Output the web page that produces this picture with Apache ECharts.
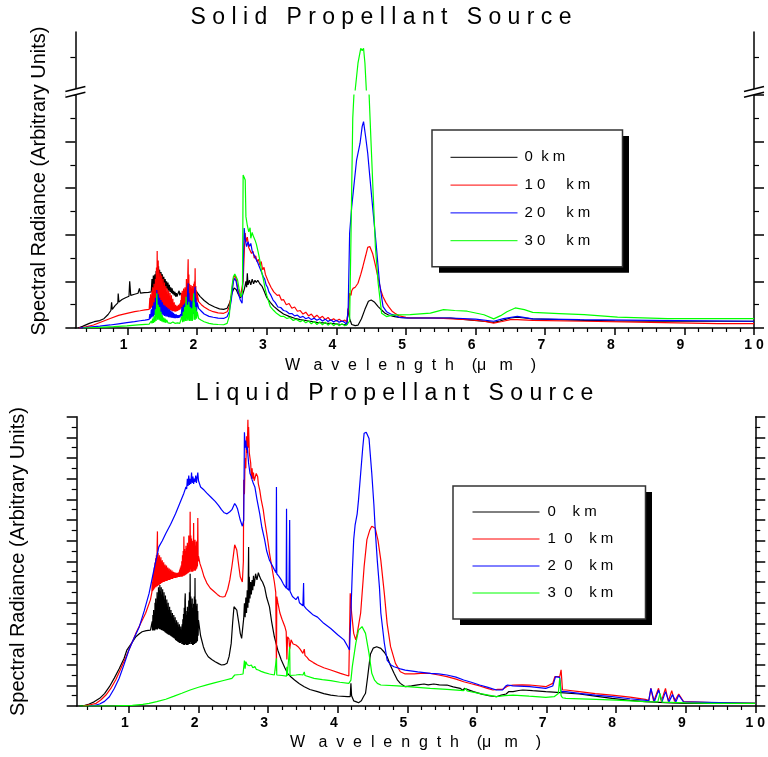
<!DOCTYPE html>
<html>
<head>
<meta charset="utf-8">
<script src="https://cdn.jsdelivr.net/npm/echarts@6/dist/echarts.min.js"></script>
<style>html,body{margin:0;padding:0;background:#fff}#c{width:768px;height:757px}</style>
</head>
<body>
<div id="c"></div>
<script>
// ---------- names / labels ----------
const seriesNames = ['0 km', '10 km', '20 km', '30 km'];
const seriesColors = ['#000000', '#ff0000', '#0000ff', '#00ff00'];
const legendTextTop = ['0  k m', '1 0     k m', '2 0     k m', '3 0     k m'];
const legendTextBottom = ['0    k m', '1  0    k m', '2  0    k m', '3  0    k m'];
const xTickValues = [1, 2, 3, 4, 5, 6, 7, 8, 9, 10];
const xTickLabels = ['1  ', '2  ', '3  ', '4  ', '5  ', '6  ', '7  ', '8  ', '9  ', '1 0'];
const titleSolid = 'S o l i d   P r o p e l l a n t   S o u r c e';
const titleLiquid = 'L i q u i d   P r o p e l l a n t   S o u r c e';
const xName = 'W   a  v  e  l  e  n  g  t  h    (μ   m    )';
const yName = 'Spectral Radiance (Arbitrary Units)';

// ---------- Solid propellant source (wavelength µm, radiance arb.) ----------
const solid0km = [[0.29,0],[0.36,0.08],[0.45,0.2],[0.52,0.27],[0.6,0.32],[0.66,0.4],[0.72,0.58],[0.76,0.75],[0.77,1.1],[0.78,0.8],[0.82,0.96],[0.86,1.08],[0.865,1.48],[0.875,1.12],[0.92,1.22],[0.97,1.3],[1.02,1.36],[1.03,2.0],[1.045,1.4],[1.1,1.45],[1.15,1.49],[1.17,1.7],[1.185,1.5],[1.24,1.52],[1.3,1.53],[1.34,1.55],
[1.35,2.1],[1.36,1.6],[1.37,2.25],[1.38,1.7],[1.39,2.3],[1.4,1.8],[1.41,2.45],[1.42,1.9],[1.43,2.55],[1.44,2.0],[1.445,2.65],[1.45,2.0],[1.46,2.5],[1.47,1.9],[1.48,2.4],[1.49,1.85],[1.5,2.3],[1.51,1.8],[1.52,2.2],[1.53,1.75],[1.54,2.1],[1.55,1.7],[1.56,2.0],[1.57,1.65],[1.58,1.95],[1.59,1.6],[1.6,1.85],[1.61,1.55],[1.62,1.75],[1.63,1.5],[1.64,1.7],[1.65,1.45],[1.66,1.6],[1.67,1.4],[1.68,1.55],[1.69,1.35],[1.7,1.5],[1.71,1.35],[1.72,1.45],[1.73,1.38],[1.74,1.6],[1.75,1.4],[1.76,1.5],[1.77,1.42],
[1.78,1.55],[1.8,1.4],[1.82,1.6],[1.84,1.45],[1.86,1.65],[1.88,1.45],[1.9,1.6],[1.92,1.45],[1.94,1.62],[1.96,1.5],[1.98,1.6],[2.0,1.55],
[2.04,1.36],[2.1,1.18],[2.17,1.02],[2.25,0.9],[2.32,0.82],[2.38,0.8],[2.43,0.85],[2.47,1.1],[2.5,1.5],[2.53,1.72],[2.56,1.65],[2.59,1.45],[2.62,1.3],[2.65,1.4],[2.68,1.7],[2.7,2.0],[2.71,1.75],[2.72,2.35],[2.73,1.85],[2.75,2.05],[2.77,1.85],[2.79,2.1],[2.81,1.9],[2.83,2.05],[2.85,1.95],[2.87,2.05],[2.9,1.9],[2.93,1.8],[2.96,1.6],[3.0,1.3],[3.05,1.1],[3.1,0.93],[3.17,0.75],[3.24,0.6],[3.32,0.5],[3.4,0.42],[3.48,0.36],[3.6,0.3],[3.72,0.24],[3.85,0.21],[3.95,0.19],[4.05,0.16],[4.15,0.14],
[4.17,0.84],[4.19,0.4],[4.22,0.15],[4.27,0.1],[4.31,0.12],[4.36,0.4],[4.41,0.8],[4.46,1.15],[4.5,1.2],[4.55,1.1],[4.6,0.92],[4.65,0.77],[4.7,0.63],[4.75,0.56],[4.82,0.5],[4.9,0.45],[5.02,0.43],[5.35,0.43],[5.64,0.42],[5.98,0.33],[6.15,0.28],[6.26,0.24],[6.35,0.3],[6.5,0.43],[6.6,0.47],[6.7,0.43],[6.82,0.39],[7.2,0.36],[7.56,0.33],[8.0,0.31],[8.52,0.29],[9.0,0.29],[9.48,0.29],[10,0.29]];

const solid10km = [[0.3,0],[0.4,0.05],[0.51,0.13],[0.63,0.27],[0.75,0.41],[0.87,0.54],[0.99,0.63],[1.1,0.7],[1.18,0.74],[1.25,0.78],[1.31,0.8],
[1.32,1.3],[1.325,0.82],[1.33,1.45],[1.335,0.85],[1.34,1.2],[1.345,0.9],[1.35,1.6],[1.355,0.88],[1.36,1.75],[1.365,0.95],[1.37,1.5],[1.375,0.92],[1.38,1.9],[1.385,1.0],[1.39,1.7],[1.395,0.98],[1.4,2.1],[1.405,1.05],[1.41,1.9],[1.415,2.6],[1.42,1.1],[1.425,3.3],[1.43,1.2],[1.435,2.4],[1.44,2.9],[1.445,1.25],[1.45,2.5],[1.455,1.15],[1.46,2.2],[1.465,1.2],[1.47,2.35],[1.475,1.1],[1.48,2.0],[1.485,1.05],[1.49,2.25],[1.495,1.0],[1.5,1.9],[1.505,0.98],[1.51,2.1],[1.515,0.95],[1.52,1.8],[1.525,0.92],[1.53,1.95],[1.535,0.9],[1.54,1.7],[1.545,0.88],[1.55,1.8],[1.555,0.85],[1.56,1.55],[1.565,0.84],[1.57,1.7],[1.575,0.82],[1.58,1.45],[1.585,0.8],[1.59,1.6],[1.595,0.78],[1.6,1.35],[1.605,0.78],[1.61,1.5],[1.615,0.76],[1.62,1.25],[1.625,0.75],[1.63,1.4],[1.635,0.74],[1.64,1.15],[1.645,0.73],[1.65,1.25],[1.655,0.72],[1.66,1.05],[1.665,0.72],[1.67,1.1],[1.675,0.71],[1.68,0.95],[1.685,0.7],[1.69,1.0],[1.695,0.71],[1.7,0.9],[1.705,0.72],[1.71,0.95],[1.715,0.73],[1.72,0.88],[1.725,0.75],[1.73,1.0],[1.735,0.76],[1.74,0.9],[1.745,0.78],[1.75,1.05],[1.755,0.8],[1.76,0.95],
[1.765,1.2],[1.77,0.85],[1.775,1.5],[1.78,0.86],[1.785,1.6],[1.79,0.88],[1.795,1.4],[1.8,0.9],[1.805,1.7],[1.81,0.9],[1.815,1.55],[1.82,0.92],[1.825,1.75],[1.83,0.93],[1.835,1.6],[1.84,0.95],[1.845,2.1],[1.85,0.96],[1.855,1.8],[1.86,1.0],[1.865,2.3],[1.87,2.95],[1.875,1.05],[1.88,2.3],[1.885,1.0],[1.89,1.9],[1.895,0.98],[1.9,1.75],[1.905,0.95],[1.91,1.85],[1.915,0.95],[1.92,1.7],[1.925,0.96],[1.93,1.8],[1.935,0.98],[1.94,1.65],[1.945,1.0],[1.95,1.9],[1.955,1.0],[1.96,2.0],[1.965,1.02],[1.97,2.56],[1.975,1.05],[1.98,1.8],[1.985,1.08],[1.99,1.6],[1.995,1.12],[2.0,1.45],
[2.02,1.13],[2.06,1.0],[2.1,0.9],[2.17,0.77],[2.23,0.7],[2.3,0.65],[2.38,0.63],[2.43,0.7],[2.46,0.9],[2.49,1.4],[2.52,2.1],[2.54,2.27],[2.56,2.1],[2.59,1.6],[2.62,1.34],[2.645,1.3],[2.66,2.0],[2.68,3.5],[2.69,4.08],[2.7,3.7],[2.72,3.9],[2.74,3.45],[2.76,3.5],[2.78,3.2],[2.8,3.3],[2.82,3.0],[2.84,3.1],[2.86,2.85],[2.88,2.95],[2.9,2.7],[2.92,2.85],[2.94,2.5],[2.96,2.6],[2.98,2.3],[3.0,2.35],[3.02,2.0],[3.04,2.05],[3.06,1.75],[3.08,1.8],[3.1,1.55],[3.12,1.6],[3.15,1.4],[3.18,1.42],[3.21,1.2],[3.24,1.22],[3.28,1.0],[3.32,1.05],[3.36,0.85],[3.4,0.9],[3.44,0.72],[3.48,0.75],[3.52,0.6],[3.56,0.68],[3.6,0.52],[3.64,0.6],[3.68,0.45],[3.72,0.55],[3.76,0.42],[3.8,0.5],[3.84,0.36],[3.88,0.45],[3.92,0.32],[3.96,0.4],[4.0,0.3],[4.04,0.38],[4.08,0.28],[4.12,0.34],[4.15,0.25],
[4.18,1.0],[4.19,1.49],[4.21,1.4],[4.22,1.6],[4.24,1.7],[4.27,1.75],[4.31,1.92],[4.35,2.3],[4.38,2.63],[4.42,3.1],[4.45,3.46],[4.48,3.5],[4.52,3.2],[4.56,2.7],[4.6,2.13],[4.64,1.6],[4.67,1.34],[4.71,1.1],[4.75,0.92],[4.8,0.72],[4.84,0.63],[4.9,0.52],[5.0,0.46],[5.06,0.43],[5.4,0.43],[5.88,0.36],[6.1,0.3],[6.26,0.21],[6.38,0.28],[6.5,0.36],[6.6,0.36],[6.82,0.33],[7.56,0.29],[8.52,0.24],[9.48,0.19],[10,0.19]];

const solid20km = [[0.31,0],[0.45,0.04],[0.6,0.08],[0.75,0.13],[0.87,0.18],[0.99,0.23],[1.1,0.27],[1.18,0.31],[1.25,0.34],[1.31,0.37],
[1.32,0.6],[1.33,0.4],[1.34,0.8],[1.35,0.45],[1.36,0.95],[1.37,0.5],[1.38,1.1],[1.39,0.55],[1.4,1.3],[1.41,0.6],[1.42,1.63],[1.43,0.65],[1.44,1.45],[1.45,0.65],[1.46,1.3],[1.47,0.6],[1.48,1.2],[1.49,0.58],[1.5,1.1],[1.51,0.55],[1.52,1.0],[1.53,0.52],[1.54,0.95],[1.55,0.5],[1.56,0.9],[1.57,0.48],[1.58,0.85],[1.59,0.46],[1.6,0.8],[1.61,0.45],[1.62,0.75],[1.63,0.44],[1.64,0.7],[1.65,0.43],[1.66,0.65],[1.67,0.42],[1.68,0.6],[1.69,0.42],[1.7,0.58],[1.71,0.43],[1.72,0.55],[1.73,0.44],[1.74,0.55],[1.75,0.45],[1.76,0.6],
[1.77,0.5],[1.78,0.9],[1.79,0.5],[1.8,1.0],[1.81,0.52],[1.82,1.05],[1.83,0.55],[1.84,1.1],[1.85,0.55],[1.86,1.4],[1.87,1.92],[1.875,0.6],[1.88,1.5],[1.89,0.6],[1.9,1.2],[1.91,0.58],[1.92,1.15],[1.93,0.58],[1.94,1.2],[1.95,0.6],[1.96,1.4],[1.97,1.77],[1.975,0.65],[1.98,1.3],[1.99,0.7],[2.0,1.1],
[2.02,0.84],[2.06,0.72],[2.1,0.6],[2.17,0.5],[2.23,0.46],[2.3,0.42],[2.38,0.41],[2.43,0.48],[2.46,0.7],[2.49,1.2],[2.52,2.0],[2.54,2.13],[2.56,1.99],[2.59,1.5],[2.62,1.2],[2.645,1.06],[2.66,2.5],[2.675,4.29],[2.69,3.8],[2.71,3.49],[2.73,3.7],[2.75,3.5],[2.77,3.63],[2.79,3.3],[2.81,3.35],[2.83,3.05],[2.85,3.1],[2.87,2.8],[2.89,2.75],[2.91,2.5],[2.93,2.45],[2.95,2.2],[2.97,2.1],[2.99,1.85],[3.01,1.75],[3.03,1.55],[3.06,1.4],[3.09,1.2],[3.12,1.1],[3.16,0.9],[3.2,0.88],[3.24,0.75],[3.28,0.72],[3.32,0.62],[3.36,0.62],[3.4,0.52],[3.44,0.55],[3.48,0.45],[3.52,0.5],[3.56,0.4],[3.6,0.45],[3.64,0.36],[3.68,0.42],[3.72,0.33],[3.76,0.4],[3.8,0.3],[3.84,0.38],[3.88,0.28],[3.92,0.35],[3.96,0.26],[4.0,0.33],[4.04,0.25],[4.08,0.3],[4.12,0.24],[4.15,0.13],
[4.17,0.92],[4.19,4.06],[4.22,5.2],[4.25,6.07],[4.29,7.21],[4.34,7.93],[4.37,8.64],[4.39,8.86],[4.42,8.21],[4.45,7.5],[4.48,6.5],[4.52,5.21],[4.57,3.63],[4.62,1.92],[4.67,0.92],[4.72,0.7],[4.78,0.6],[4.83,0.55],[4.9,0.46],[5.02,0.43],[5.64,0.43],[6.0,0.38],[6.26,0.29],[6.4,0.4],[6.6,0.5],[6.82,0.39],[7.5,0.36],[8.52,0.33],[10,0.29]];

const solid30km = [[0.36,0],[0.6,0.03],[0.8,0.06],[0.99,0.09],[1.15,0.13],[1.31,0.17],
[1.33,0.2],[1.34,0.3],[1.35,0.2],[1.36,0.4],[1.37,0.22],[1.38,0.5],[1.39,0.25],[1.4,0.8],[1.41,0.3],[1.42,1.49],[1.43,0.35],[1.44,1.0],[1.45,0.35],[1.46,0.9],[1.47,0.3],[1.48,0.7],[1.49,0.28],[1.5,0.55],[1.51,0.25],[1.52,0.45],[1.53,0.24],[1.54,0.4],[1.55,0.22],[1.56,0.35],[1.58,0.22],[1.6,0.3],[1.62,0.2],[1.65,0.26],[1.68,0.2],[1.72,0.22],[1.75,0.2],
[1.77,0.2],[1.78,0.5],[1.79,0.25],[1.8,0.7],[1.81,0.27],[1.82,0.9],[1.83,0.3],[1.84,1.34],[1.85,0.3],[1.86,1.0],[1.87,0.32],[1.88,1.13],[1.89,0.3],[1.9,0.9],[1.91,0.3],[1.92,0.85],[1.93,0.3],[1.94,1.0],[1.95,1.49],[1.955,0.35],[1.96,1.1],[1.97,0.35],[1.98,0.9],[1.99,0.4],[2.0,0.7],
[2.02,0.41],[2.06,0.33],[2.1,0.27],[2.17,0.2],[2.23,0.17],[2.3,0.15],[2.38,0.14],[2.43,0.2],[2.46,0.5],[2.48,1.2],[2.5,1.8],[2.52,2.2],[2.54,2.32],[2.56,2.2],[2.58,2.06],[2.6,1.7],[2.63,1.34],[2.65,1.49],[2.66,6.57],[2.675,6.62],[2.69,6.35],[2.7,4.78],[2.72,4.4],[2.74,4.13],[2.76,4.3],[2.77,3.85],[2.79,4.1],[2.8,3.99],[2.82,4.05],[2.83,3.78],[2.85,3.6],[2.88,3.2],[2.9,2.9],[2.93,2.35],[2.95,2.1],[2.98,1.63],[3.0,1.4],[3.02,1.2],[3.05,0.92],[3.1,0.75],[3.14,0.63],[3.2,0.5],[3.24,0.5],[3.29,0.41],[3.33,0.45],[3.38,0.32],[3.42,0.38],[3.48,0.27],[3.52,0.33],[3.56,0.22],[3.6,0.3],[3.64,0.18],[3.68,0.28],[3.72,0.15],[3.76,0.26],[3.8,0.14],[3.84,0.25],[3.88,0.12],[3.92,0.22],[3.96,0.1],[4.0,0.2],[4.04,0.1],[4.08,0.18],[4.12,0.1],[4.15,0.13],
[4.19,0.3],[4.21,4.0],[4.235,9.0],[4.26,10.5],[4.27,12.0],[4.31,13.15],[4.35,13.79],[4.37,13.69],[4.39,13.79],[4.41,13.15],[4.43,12.0],[4.47,10.0],[4.5,7.8],[4.53,5.64],[4.56,3.5],[4.6,1.92],[4.65,0.63],[4.72,0.49],[4.8,0.55],[4.87,0.56],[5.06,0.57],[5.35,0.64],[5.54,0.79],[5.7,0.75],[5.88,0.72],[6.12,0.57],[6.26,0.39],[6.36,0.53],[6.45,0.7],[6.57,0.86],[6.7,0.79],[6.82,0.67],[7.2,0.62],[7.56,0.57],[8.04,0.47],[8.76,0.4],[10,0.4]];

// ---------- Liquid propellant source ----------
const liquid0km = [[0.29,0],[0.36,0.05],[0.43,0.19],[0.5,0.4],[0.58,0.74],[0.65,1.2],[0.72,1.87],[0.79,2.7],[0.86,3.6],[0.93,4.6],[0.97,5.4],[0.99,5.6],[1.0,5.5],[1.02,5.9],[1.06,6.3],[1.1,6.71],[1.15,7.0],[1.19,7.19],[1.25,7.3],[1.31,7.35],
[1.33,7.4],[1.335,8.2],[1.34,7.3],[1.345,8.8],[1.35,7.3],[1.355,9.3],[1.36,7.35],[1.365,8.9],[1.37,7.3],[1.375,10.0],[1.38,7.4],[1.385,10.4],[1.39,7.4],[1.395,9.8],[1.4,7.45],[1.405,11.0],[1.41,7.4],[1.415,10.6],[1.42,7.5],[1.425,11.5],[1.43,7.5],[1.435,11.2],[1.44,7.45],[1.445,11.7],[1.45,7.4],[1.455,11.1],[1.46,7.4],[1.465,11.5],[1.47,7.35],[1.475,10.8],[1.48,7.3],[1.485,11.3],[1.49,7.3],[1.495,10.6],[1.5,7.25],[1.505,11.0],[1.51,7.2],[1.515,10.3],[1.52,7.15],[1.525,10.7],[1.53,7.1],[1.535,9.9],[1.54,7.05],[1.545,10.3],[1.55,7.0],[1.555,9.6],[1.56,6.95],[1.565,10.0],[1.57,6.9],[1.575,9.3],[1.58,6.9],[1.585,9.6],[1.59,6.85],[1.595,9.0],[1.6,6.8],[1.605,9.3],[1.61,6.75],[1.615,8.7],[1.62,6.7],[1.625,9.0],[1.63,6.65],[1.635,8.5],[1.64,6.6],[1.645,8.8],[1.65,6.55],[1.655,8.3],[1.66,6.5],[1.665,8.6],[1.67,6.4],[1.675,8.0],[1.68,6.35],[1.685,8.3],[1.69,6.3],[1.695,7.8],[1.7,6.25],[1.705,8.1],[1.71,6.2],[1.715,7.6],[1.72,6.15],[1.725,7.9],[1.73,6.1],[1.735,7.4],[1.74,6.1],[1.745,7.7],[1.75,6.2],
[1.755,7.2],[1.76,6.0],[1.765,7.9],[1.77,6.0],[1.775,8.4],[1.78,5.95],[1.785,8.9],[1.79,5.9],[1.795,9.5],[1.8,5.9],[1.805,10.2],[1.81,10.9],[1.815,6.0],[1.82,9.2],[1.825,5.9],[1.83,8.8],[1.835,5.9],[1.84,9.6],[1.845,5.9],[1.85,9.1],[1.855,5.95],[1.86,10.2],[1.865,6.0],[1.87,11.0],[1.875,6.0],[1.88,12.8],[1.885,6.2],[1.89,10.6],[1.895,6.0],[1.9,9.9],[1.905,6.0],[1.91,10.4],[1.915,5.9],[1.92,9.5],[1.925,5.9],[1.93,9.9],[1.935,6.0],[1.94,10.6],[1.945,6.0],[1.95,12.4],[1.955,6.1],[1.96,10.3],[1.965,6.1],[1.97,9.7],[1.975,6.2],[1.98,9.9],[1.985,6.3],[1.99,9.2],[1.995,6.8],[2.0,8.32],
[2.03,6.8],[2.07,5.74],[2.1,5.2],[2.14,4.77],[2.19,4.5],[2.24,4.29],[2.29,4.1],[2.33,3.97],[2.37,4.0],[2.41,4.13],[2.44,4.8],[2.47,6.06],[2.49,8.0],[2.51,9.61],[2.53,9.7],[2.55,9.29],[2.58,8.0],[2.6,7.03],[2.62,6.55],[2.64,6.7],[2.65,8.5],[2.66,9.94],[2.67,8.6],[2.68,10.5],[2.69,9.0],[2.7,11.2],[2.71,9.5],[2.72,15.4],[2.725,10.0],[2.73,12.5],[2.74,10.4],[2.75,12.0],[2.76,10.8],[2.77,12.2],[2.78,11.2],[2.79,12.6],[2.8,11.6],[2.82,12.8],[2.84,12.2],[2.86,12.9],[2.88,12.5],[2.9,12.2],[2.92,12.0],[2.95,11.5],[2.98,10.5],[3.02,9.6],[3.05,8.2],[3.09,6.7],[3.14,5.4],[3.19,4.45],[3.24,3.7],[3.28,3.16],[3.33,2.8],[3.38,2.52],[3.45,2.15],[3.52,1.87],[3.6,1.6],[3.71,1.39],[3.8,1.2],[3.9,1.06],[4.0,0.97],[4.14,0.9],[4.18,0.9],
[4.19,2.2],[4.2,1.0],[4.23,0.5],[4.27,0.4],[4.3,0.32],[4.34,0.5],[4.37,0.9],[4.4,1.23],[4.43,2.8],[4.47,5.0],[4.51,5.6],[4.56,5.74],[4.62,5.58],[4.67,5.2],[4.71,4.77],[4.76,3.9],[4.81,3.16],[4.86,2.5],[4.9,2.19],[4.97,1.87],[5.06,1.94],[5.15,2.05],[5.24,2.13],[5.3,2.05],[5.38,2.13],[5.46,2.05],[5.57,2.03],[5.66,1.85],[5.76,1.71],[5.8,1.5],[5.82,1.7],[5.95,1.39],[6.07,1.15],[6.19,0.97],[6.28,0.9],[6.35,1.05],[6.42,1.16],[6.46,1.4],[6.52,1.39],[6.6,1.5],[6.66,1.55],[6.8,1.48],[6.99,1.39],[7.1,1.35],[7.2,1.3],[7.47,1.16],[7.7,0.95],[7.94,0.74],[8.2,0.55],[8.42,0.42],[8.7,0.32],[8.99,0.26],[10,0.26]];

const liquid10km = [[0.34,0],[0.43,0.1],[0.53,0.26],[0.6,0.6],[0.67,1.06],[0.74,1.7],[0.81,2.52],[0.88,3.55],[0.96,4.77],[1.03,5.9],[1.1,7.03],[1.17,8.0],[1.24,8.97],[1.31,10.3],
[1.33,11.0],[1.335,12.0],[1.34,11.1],[1.345,12.6],[1.35,11.2],[1.355,13.0],[1.36,11.3],[1.365,13.4],[1.37,11.4],[1.375,13.9],[1.38,11.5],[1.385,14.3],[1.39,11.5],[1.395,14.6],[1.4,11.6],[1.405,15.2],[1.41,16.9],[1.415,11.6],[1.42,14.8],[1.425,11.7],[1.43,14.4],[1.435,11.7],[1.44,14.6],[1.445,11.8],[1.45,14.2],[1.455,11.8],[1.46,14.4],[1.465,11.9],[1.47,14.0],[1.475,11.9],[1.48,14.1],[1.485,12.0],[1.49,13.8],[1.495,12.0],[1.5,13.9],[1.505,12.0],[1.51,13.6],[1.515,12.05],[1.52,13.7],[1.525,12.1],[1.53,13.5],[1.535,12.1],[1.54,13.6],[1.545,12.1],[1.55,13.4],[1.555,12.15],[1.56,13.4],[1.565,12.2],[1.57,13.2],[1.575,12.2],[1.58,13.3],[1.585,12.2],[1.59,13.1],[1.595,12.25],[1.6,13.2],[1.605,12.3],[1.61,13.0],[1.615,12.3],[1.62,13.1],[1.625,12.3],[1.63,12.95],[1.635,12.35],[1.64,13.0],[1.645,12.4],[1.65,12.9],[1.655,12.4],[1.66,12.95],[1.665,12.4],[1.67,12.85],[1.675,12.4],[1.68,12.9],[1.685,12.45],[1.69,12.85],[1.695,12.45],[1.7,12.9],[1.705,12.5],[1.71,12.9],[1.715,12.5],[1.72,13.0],[1.725,12.5],[1.73,13.2],[1.735,12.5],[1.74,13.4],[1.745,12.5],[1.75,13.6],
[1.755,12.5],[1.76,14.0],[1.765,12.5],[1.77,14.6],[1.775,12.55],[1.78,15.0],[1.785,12.6],[1.79,16.4],[1.795,12.6],[1.8,15.2],[1.805,12.65],[1.81,15.0],[1.815,12.7],[1.82,15.5],[1.825,12.75],[1.83,15.3],[1.835,12.8],[1.84,15.8],[1.845,12.85],[1.85,15.6],[1.855,12.9],[1.86,16.5],[1.865,12.95],[1.87,16.0],[1.875,13.0],[1.88,18.8],[1.885,13.2],[1.89,16.5],[1.895,13.0],[1.9,16.2],[1.905,13.0],[1.91,16.0],[1.915,13.0],[1.92,15.7],[1.925,13.05],[1.93,17.7],[1.935,13.2],[1.94,15.8],[1.945,13.1],[1.95,16.1],[1.955,13.1],[1.96,15.5],[1.965,13.2],[1.97,15.9],[1.975,13.3],[1.98,16.0],[1.985,13.5],[1.99,18.2],[1.995,14.0],[2.0,14.5],
[2.02,13.8],[2.05,13.2],[2.08,12.5],[2.12,11.9],[2.17,11.4],[2.22,11.1],[2.27,10.8],[2.31,10.6],[2.35,10.55],[2.38,10.6],[2.42,11.3],[2.45,12.2],[2.48,13.5],[2.5,14.5],[2.52,15.6],[2.55,15.1],[2.58,13.5],[2.6,12.5],[2.63,12.0],[2.645,14.0],[2.65,21.9],[2.66,20.5],[2.67,24.0],[2.68,23.0],[2.69,26.1],[2.7,24.5],[2.71,27.7],[2.715,25.0],[2.72,27.0],[2.73,24.5],[2.74,24.0],[2.75,23.5],[2.76,22.0],[2.77,23.0],[2.78,22.0],[2.79,22.6],[2.8,21.8],[2.82,21.9],[2.83,22.5],[2.85,22.2],[2.86,21.5],[2.88,20.9],[2.9,20.0],[2.93,19.0],[2.95,18.0],[2.98,16.7],[3.0,15.8],[3.02,14.8],[3.05,13.6],[3.07,12.8],[3.09,12.0],[3.11,11.0],[3.12,3.4],[3.125,10.6],[3.14,10.0],[3.17,9.0],[3.2,8.4],[3.24,7.7],[3.26,7.2],[3.27,4.5],[3.28,6.7],[3.3,6.5],[3.31,5.5],[3.33,6.4],[3.36,6.0],[3.4,5.9],[3.43,5.74],[3.46,5.5],[3.5,5.1],[3.52,5.5],[3.53,4.9],[3.56,4.7],[3.59,4.45],[3.65,4.2],[3.71,3.97],[3.8,3.7],[3.9,3.48],[4.04,3.16],[4.16,2.9],
[4.18,10.9],[4.2,9.0],[4.23,7.03],[4.26,6.4],[4.28,7.0],[4.33,9.0],[4.38,13.5],[4.42,16.1],[4.46,17.0],[4.49,17.4],[4.54,17.2],[4.58,16.0],[4.62,14.1],[4.67,10.9],[4.71,8.0],[4.76,5.74],[4.83,4.13],[4.9,3.32],[4.97,3.1],[5.1,3.1],[5.19,3.16],[5.33,3.16],[5.45,3.0],[5.57,2.84],[5.7,2.6],[5.81,2.35],[5.92,2.15],[6.04,1.94],[6.15,1.7],[6.23,1.55],[6.3,1.6],[6.37,1.61],[6.45,1.95],[6.52,2.03],[6.65,2.05],[6.76,2.03],[6.99,1.87],[7.09,2.19],[7.12,2.84],[7.19,2.84],[7.21,3.5],[7.23,1.55],[7.28,1.55],[7.47,1.39],[7.7,1.2],[7.94,1.06],[8.2,0.85],[8.42,0.65],[8.47,0.52],[8.5,1.71],[8.54,0.45],[8.61,1.71],[8.65,0.45],[8.71,1.71],[8.75,0.45],[8.8,1.48],[8.84,0.45],[8.9,1.16],[8.97,0.42],[9.38,0.32],[10,0.26]];

const liquid20km = [[0.43,0],[0.5,0.05],[0.58,0.19],[0.65,0.45],[0.72,0.9],[0.79,1.7],[0.86,2.68],[0.93,4.0],[1.0,5.42],[1.07,6.5],[1.15,7.68],[1.22,9.2],[1.29,10.9],[1.36,13.2],[1.43,15.4],[1.48,16.0],[1.53,16.7],[1.6,17.6],[1.67,18.6],[1.73,19.6],[1.79,20.6],[1.82,21.2],
[1.83,21.0],[1.84,22.0],[1.85,21.3],[1.86,22.3],[1.87,21.4],[1.88,22.0],[1.89,21.5],[1.9,22.6],[1.91,21.6],[1.92,22.2],[1.93,21.5],[1.94,22.0],[1.95,21.7],[1.96,22.3],[1.97,21.6],[1.98,22.1],[1.99,22.6],[2.0,21.8],
[2.03,21.2],[2.08,20.9],[2.12,20.6],[2.18,20.2],[2.24,19.8],[2.29,19.4],[2.33,19.0],[2.37,18.7],[2.41,18.6],[2.45,18.8],[2.48,19.0],[2.52,19.6],[2.54,19.4],[2.56,19.1],[2.6,18.0],[2.63,17.4],[2.65,18.0],[2.66,26.5],[2.67,25.0],[2.68,25.7],[2.69,24.8],[2.7,25.1],[2.72,23.5],[2.74,22.5],[2.76,22.2],[2.77,21.9],[2.79,21.5],[2.81,21.2],[2.84,20.0],[2.88,18.6],[2.91,17.3],[2.95,16.1],[2.98,15.0],[3.02,14.1],[3.06,13.6],[3.09,13.2],[3.115,12.9],[3.12,21.2],[3.125,12.8],[3.15,12.6],[3.19,12.2],[3.22,11.8],[3.26,11.4],[3.265,19.1],[3.27,11.4],[3.3,11.2],[3.31,18.0],[3.315,11.1],[3.35,10.6],[3.4,10.3],[3.43,10.6],[3.45,10.0],[3.5,9.7],[3.51,11.9],[3.515,9.7],[3.55,9.4],[3.6,9.1],[3.65,8.8],[3.71,8.6],[3.8,8.0],[3.9,7.5],[4.0,6.9],[4.09,6.4],[4.14,5.8],[4.17,5.42],
[4.19,9.0],[4.21,13.0],[4.23,16.1],[4.25,17.5],[4.28,18.6],[4.3,20.0],[4.33,22.5],[4.36,25.0],[4.38,26.4],[4.41,26.5],[4.45,25.9],[4.49,22.5],[4.52,19.5],[4.54,17.0],[4.57,14.0],[4.6,11.5],[4.62,9.0],[4.67,6.1],[4.71,4.45],[4.76,4.0],[4.81,3.8],[4.9,3.6],[4.97,3.48],[5.15,3.3],[5.33,3.16],[5.45,3.1],[5.57,3.0],[5.7,2.8],[5.81,2.52],[5.92,2.3],[6.04,2.03],[6.16,1.8],[6.28,1.55],[6.37,1.55],[6.41,1.9],[6.44,2.03],[6.52,1.94],[6.76,1.87],[6.99,1.71],[7.09,1.94],[7.13,2.84],[7.19,2.77],[7.21,1.39],[7.28,1.39],[7.47,1.23],[7.7,1.05],[7.94,0.9],[8.2,0.7],[8.47,0.52],[8.5,1.71],[8.55,0.4],[8.61,1.55],[8.66,0.4],[8.71,1.39],[8.76,0.4],[8.81,1.1],[8.86,0.4],[8.9,1.06],[8.97,0.39],[10,0.26]];

const liquid30km = [[0.29,0],[0.8,0.02],[1.05,0.06],[1.2,0.15],[1.29,0.26],[1.4,0.42],[1.53,0.65],[1.65,0.95],[1.76,1.23],[1.88,1.55],[2.0,1.81],[2.12,2.05],[2.24,2.26],[2.36,2.47],[2.48,2.68],[2.52,3.0],[2.6,3.05],[2.64,3.1],[2.66,4.39],[2.67,3.6],[2.68,4.29],[2.7,4.0],[2.71,3.81],[2.73,3.9],[2.76,3.97],[2.78,3.7],[2.81,3.81],[2.83,3.55],[2.86,3.48],[2.9,3.35],[2.95,3.23],[3.02,3.1],[3.09,3.0],[3.115,3.0],[3.12,4.61],[3.125,3.0],[3.2,2.95],[3.265,2.9],[3.27,3.8],[3.275,2.9],[3.31,5.74],[3.315,2.95],[3.4,3.0],[3.45,3.05],[3.5,3.0],[3.52,3.3],[3.53,2.95],[3.66,2.68],[3.78,2.55],[3.9,2.45],[4.03,2.3],[4.16,2.19],
[4.19,2.5],[4.21,3.81],[4.26,6.06],[4.3,7.35],[4.35,7.68],[4.4,7.03],[4.45,5.1],[4.49,3.16],[4.53,2.5],[4.57,2.19],[4.62,2.03],[4.86,1.94],[5.1,1.82],[5.33,1.71],[5.57,1.6],[5.81,1.48],[5.84,1.71],[5.86,1.45],[6.05,1.2],[6.28,0.9],[6.4,1.0],[6.52,1.06],[6.75,0.95],[6.99,0.84],[7.11,0.9],[7.17,1.2],[7.19,2.68],[7.21,1.0],[7.23,0.8],[7.28,0.74],[7.71,0.65],[8.0,0.56],[8.42,0.42],[8.6,0.4],[8.63,1.23],[8.66,0.38],[9.0,0.3],[9.38,0.26],[10,0.26]];

// ---------- chart ----------
const FONT = "'Liberation Sans', Arial, Helvetica, sans-serif";
const chart = echarts.init(document.getElementById('c'), null, {renderer: 'canvas'});

const xMinorTicks = [];
for (let i = 2; i <= 50; i++) { if (i % 5 !== 0) xMinorTicks.push(+(i * 0.2).toFixed(1)); }

function xMain(gridIndex) {
  return {
    type: 'value', gridIndex, min: 0.25, max: 10, position: 'bottom',
    axisLine: {show: true, onZero: false, lineStyle: {color: '#000', width: 1.5}},
    axisTick: {show: true, customValues: xTickValues, length: 7, lineStyle: {color: '#000', width: 1.5}},
    axisLabel: {show: true, customValues: xTickValues, margin: 10, color: '#000', fontSize: 14, fontWeight: 'bold', fontFamily: FONT,
      formatter: v => xTickLabels[xTickValues.indexOf(Math.round(v))]},
    splitLine: {show: false}
  };
}
function xMinor(gridIndex) {
  return {
    type: 'value', gridIndex, min: 0.25, max: 10, position: 'bottom',
    axisLine: {show: false},
    axisTick: {show: true, customValues: xMinorTicks, length: 4, lineStyle: {color: '#000', width: 1.2}},
    axisLabel: {show: false}, splitLine: {show: false}
  };
}
function yMain(gridIndex, pos, max) {
  return {
    type: 'value', gridIndex, position: pos, min: 0, max, interval: 2,
    axisLine: {show: true, onZero: false, lineStyle: {color: '#000', width: 1.5}},
    axisTick: {show: true, length: 10, lineStyle: {color: '#000', width: 1.5}},
    minorTick: {show: true, splitNumber: 2, length: 5, lineStyle: {color: '#000', width: 1.2}},
    axisLabel: {show: false}, splitLine: {show: false}, minorSplitLine: {show: false}
  };
}
function yUpper(pos) {
  return {
    type: 'value', gridIndex: 0, position: pos, min: 12, max: 14.49,
    axisLine: {show: true, onZero: false, lineStyle: {color: '#000', width: 1.5}},
    axisTick: {show: true, customValues: [13.4], length: 5, lineStyle: {color: '#000', width: 1.2}},
    axisLabel: {show: false}, splitLine: {show: false}
  };
}
function line(name, data, color, xi, yi) {
  return {type: 'line', name, data, xAxisIndex: xi, yAxisIndex: yi, symbol: 'none', showSymbol: false,
    clip: true, silent: true, animation: false, lineStyle: {color, width: 1.2}, itemStyle: {color},
    emphasis: {disabled: true}};
}
// legend box: fixed outer size, right padding derived from the measured label width
const LEG_FONT = 15;
function textWidth(texts) {
  const ctx = document.createElement('canvas').getContext('2d');
  ctx.font = LEG_FONT + 'px ' + FONT;
  return Math.max.apply(null, texts.map(t => ctx.measureText(t).width));
}
function legendBox(box) {
  const padR = box.w - box.padL - 67 - 5 - box.textPad - textWidth(box.texts);
  return {
    left: box.left, top: box.top, orient: 'vertical',
    padding: [box.padT, padR, box.padB, box.padL], itemGap: box.gap,
    itemWidth: 67, itemHeight: 16, selectedMode: false,
    backgroundColor: '#fff', borderColor: '#333', borderWidth: 1.5,
    itemStyle: {opacity: 0}, lineStyle: {width: 1},
    textStyle: {fontSize: LEG_FONT, color: '#000', fontFamily: FONT, padding: [0, 0, 0, box.textPad]},
    data: seriesNames, formatter: n => box.texts[seriesNames.indexOf(n)]
  };
}
function legendShadow(box) {
  return {type: 'rect', z: 3, silent: true,
    shape: {x: box.left + 7, y: box.top + 6, width: box.w, height: box.h}, style: {fill: '#000'}};
}
const boxTop = {left: 432, top: 130, w: 190, h: 136.7, padT: 19.8, padB: 18.5, padL: 18, gap: 12.8, textPad: 2, texts: legendTextTop};
const boxBottom = {left: 453, top: 486, w: 192, h: 133, padT: 18.5, padB: 18.5, padL: 19, gap: 12, textPad: 3, texts: legendTextBottom};

function txt(text, x, y, size, align, rot) {
  return {type: 'text', x, y, rotation: rot || 0, z: 100, silent: true,
    style: {text, fill: '#000', font: size + 'px ' + FONT, textAlign: align, textVerticalAlign: 'middle', align, verticalAlign: 'middle'}};
}
function breakMark(x) {
  return [
    {type: 'polygon', z: 100, silent: true, shape: {points: [[x - 10, 91.5], [x + 10, 86.5], [x + 10, 92.3], [x - 10, 97.2]]}, style: {fill: '#fff'}},
    {type: 'polyline', z: 101, silent: true, shape: {points: [[x - 10, 91.5], [x + 10, 86.5]]}, style: {stroke: '#000', lineWidth: 1.5}},
    {type: 'polyline', z: 101, silent: true, shape: {points: [[x - 10, 97.2], [x + 10, 92.3]]}, style: {stroke: '#000', lineWidth: 1.5}}
  ];
}

const solidData = [solid0km, solid10km, solid20km, solid30km];
const liquidData = [liquid0km, liquid10km, liquid20km, liquid30km];
const series = [];
solidData.forEach((d, i) => series.push(line(seriesNames[i], d, seriesColors[i], 1, 2)));
series.push(line(seriesNames[3], solid30km, seriesColors[3], 0, 0));
liquidData.forEach((d, i) => series.push(line(seriesNames[i], d, seriesColors[i], 3, 4)));

chart.setOption({
  animation: false,
  backgroundColor: '#fff',
  grid: [
    {left: 75.4, top: 32, width: 678.6, height: 58},
    {left: 75.4, top: 95, width: 678.6, height: 233},
    {left: 76.7, top: 416.7, width: 685, height: 289.3}
  ],
  xAxis: [
    {type: 'value', gridIndex: 0, min: 0.25, max: 10, show: false},
    xMain(1), xMinor(1), xMain(2), xMinor(2)
  ],
  yAxis: [
    yUpper('left'), yUpper('right'),
    yMain(1, 'left', 10), yMain(1, 'right', 10),
    yMain(2, 'left', 28), yMain(2, 'right', 28)
  ],
  legend: [legendBox(boxTop), legendBox(boxBottom)],
  graphic: [
    legendShadow(boxTop), legendShadow(boxBottom),
    txt(titleSolid, 381, 18, 23, 'center'),
    txt(titleLiquid, 394.5, 393.5, 23, 'center'),
    txt(xName, 285, 365.5, 16, 'left'),
    txt(xName, 290, 742.5, 16, 'left'),
    txt(yName, 39, 181, 20, 'center', Math.PI / 2),
    txt(yName, 18, 561.5, 20, 'center', Math.PI / 2)
  ].concat(breakMark(75.4), breakMark(754)),
  series
});
</script>
</body>
</html>
